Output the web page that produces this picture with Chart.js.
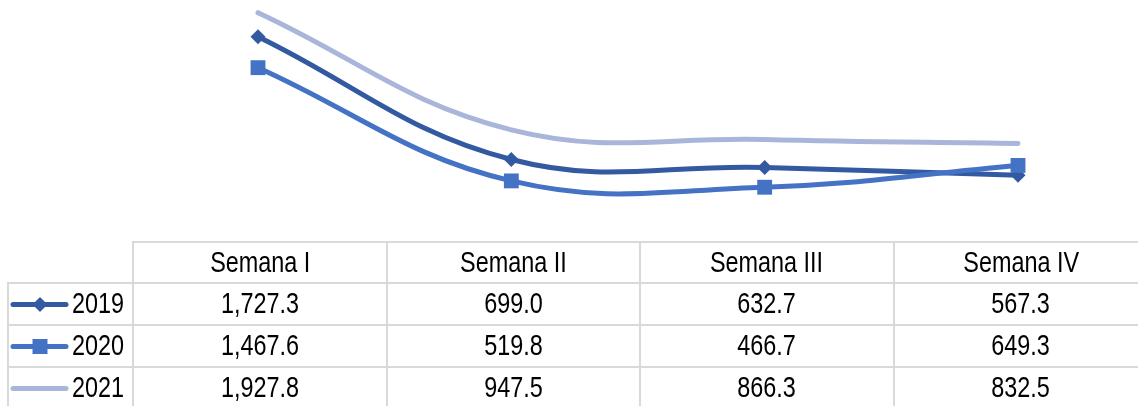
<!DOCTYPE html>
<html>
<head>
<meta charset="utf-8">
<script src="https://cdn.jsdelivr.net/npm/chart.js@4/dist/chart.umd.min.js"></script>
<style>
  html, body { margin: 0; padding: 0; background: #fff; }
  body { width: 1138px; height: 406px; overflow: hidden; position: relative; }
  #chart { position: absolute; left: 0; top: 0; }
  #table { position: absolute; left: 0; top: 0; width: 1138px; height: 406px;
           font-family: "Liberation Sans", Arial, sans-serif;
           font-size: 30px; color: #000; }
  .cell { position: absolute; box-sizing: border-box; display: flex;
          align-items: center; justify-content: center; white-space: nowrap; }
  .cell span { display: inline-block; transform: scaleX(0.78); position: relative; top: -1px; }
  .bl { border-left: 2px solid #d9d9d9; }
  .bt { border-top: 2px solid #d9d9d9; }
  .key { justify-content: flex-start; padding-left: 0; }
  .key > * { flex-shrink: 0; }
  .key span { transform-origin: left center; margin-left: 3px; }
</style>
</head>
<body>
<canvas id="chart" width="1138" height="406"></canvas>
<div id="table"></div>
<script>
const weeks = ['Semana I', 'Semana II', 'Semana III', 'Semana IV'];
const years = ['2019', '2020', '2021'];
const v2019 = [1727.3, 699.0, 632.7, 567.3];
const v2020 = [1467.6, 519.8, 466.7, 649.3];
const v2021 = [1927.8, 947.5, 866.3, 832.5];

const colors = ['#335aa1', '#4472c4', '#a9b6da'];
const styles = ['rectRot', 'rect', false];
const radii = [7.5, 10.5, 0];

const series = [v2019, v2020, v2021];

const ctx = document.getElementById('chart').getContext('2d');
const chart = new Chart(ctx, {
  type: 'line',
  data: {
    labels: weeks,
    datasets: series.map((vals, i) => ({
      label: years[i],
      data: vals,
      borderColor: colors[i],
      backgroundColor: colors[i],
      borderWidth: 5,
      pointStyle: styles[i],
      pointRadius: radii[i],
      pointBorderWidth: 0,
      tension: 0.4,
      borderCapStyle: 'round',
      clip: false
    })).reverse()
  },
  options: {
    responsive: false,
    animation: false,
    layout: { autoPadding: false, padding: { left: 258, right: 120, top: 0, bottom: 163 } },
    plugins: { legend: { display: false }, tooltip: { enabled: false } },
    scales: {
      x: { display: false, offset: false },
      y: { display: false, min: 0, max: 2034 }
    }
  }
});

// data table under the plot, Excel style
const table = document.getElementById('table');
const colX = [7, 132, 386, 639, 893];
const colW = [125, 254, 253, 254, 254];
const rowY = [241, 282, 324, 366];
const rowH = [41, 42, 42, 42];

function cell(x, y, w, h, cls, html) {
  const d = document.createElement('div');
  d.className = 'cell ' + cls;
  d.style.left = x + 'px';
  d.style.top = y + 'px';
  d.style.width = w + 'px';
  d.style.height = h + 'px';
  d.innerHTML = html;
  table.appendChild(d);
}

function keySvg(i) {
  let m = '';
  if (styles[i] === 'rectRot') m = `<polygon points="31,0 38.5,7.5 31,15 23.5,7.5" fill="${colors[i]}"/>`;
  if (styles[i] === 'rect') m = `<rect x="23.5" y="0" width="15" height="15" fill="${colors[i]}"/>`;
  return `<svg width="60" height="15" viewBox="0 0 60 15"><line x1="4" y1="7.5" x2="57" y2="7.5" stroke="${colors[i]}" stroke-width="5" stroke-linecap="round"/>${m}</svg>`;
}

weeks.forEach((w, c) => cell(colX[c + 1], rowY[0], colW[c + 1], rowH[0], 'bl bt', `<span>${w}</span>`));
years.forEach((y, r) => {
  cell(colX[0], rowY[r + 1], colW[0], rowH[r + 1], 'bl bt key', keySvg(r) + `<span>${y}</span>`);
  series[r].forEach((v, c) => {
    const txt = v.toLocaleString('en-US', { minimumFractionDigits: 1, maximumFractionDigits: 1 });
    cell(colX[c + 1], rowY[r + 1], colW[c + 1], rowH[r + 1], 'bl bt', `<span>${txt}</span>`);
  });
});
</script>
</body>
</html>
